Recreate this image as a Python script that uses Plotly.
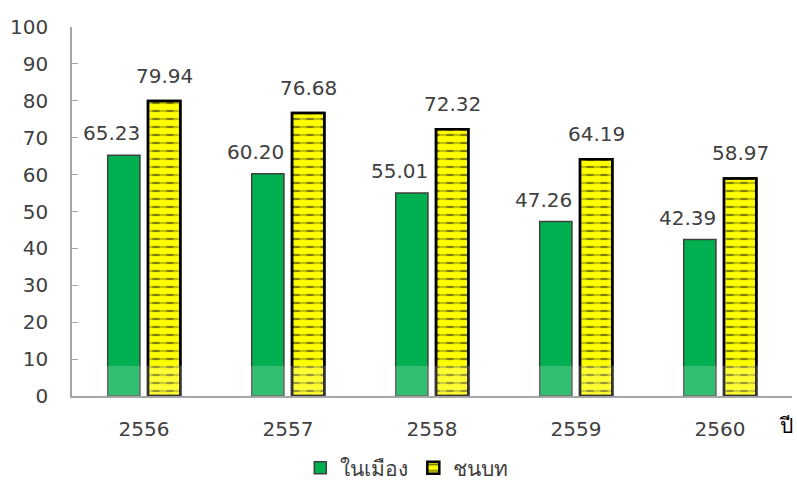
import plotly.graph_objects as go

years = ["2556", "2557", "2558", "2559", "2560"]
urban = [65.23, 60.20, 55.01, 47.26, 42.39]
rural = [79.94, 76.68, 72.32, 64.19, 58.97]
urban_name = "ในเมือง"
rural_name = "ชนบท"
x_title = "ปี"

FONT = "DejaVu Sans"
TXT = "#404040"

pos = list(range(len(years)))

fig = go.Figure()
fig.add_trace(go.Bar(
    x=pos, y=urban, name=urban_name, offsetgroup="u",
    marker=dict(color="#00B050", line=dict(color="#404040", width=1.5)),
))
fig.add_trace(go.Bar(
    x=pos, y=rural, name=rural_name, offsetgroup="r",
    marker=dict(color="#FFFF00", line=dict(color="#000000", width=2.5),
                pattern=dict(shape="-", fgcolor="#000000", bgcolor="#FFFF00",
                             size=8, solidity=0.28)),
))
# yellow vertical stripes over the line pattern -> dashed look
fig.add_trace(go.Bar(
    x=pos, y=rural, name=rural_name, offsetgroup="r", showlegend=False,
    hoverinfo="skip",
    marker=dict(color="rgba(0,0,0,0)", line=dict(color="#000000", width=2.5),
                pattern=dict(shape="|", fgcolor="#FFFF00", bgcolor="rgba(0,0,0,0)",
                             size=14, solidity=0.5)),
))

for p, u, r in zip(pos, urban, rural):
    fig.add_annotation(x=p, y=u, text=f"{u:.2f}", showarrow=False,
                       xshift=-33, yshift=22, yanchor="middle",
                       font=dict(family=FONT, size=20, color=TXT))
    fig.add_annotation(x=p, y=r, text=f"{r:.2f}", showarrow=False,
                       xshift=20, yshift=25, yanchor="middle",
                       font=dict(family=FONT, size=20, color=TXT))

fig.add_annotation(xref="paper", yref="paper", x=0.992, y=-0.08,
                   text=x_title, showarrow=False, xanchor="center", yanchor="middle",
                   font=dict(family=FONT, size=21, color="#000000"))

# light band near the base (watermark overlay in the reference)
fig.add_shape(type="rect", xref="paper", yref="y", x0=0, x1=1, y0=0, y1=8.2,
              fillcolor="rgba(255,255,255,0.2)", line=dict(width=0), layer="above")

fig.update_layout(
    width=797, height=483,
    margin=dict(l=72, r=5, t=27, b=87),
    paper_bgcolor="white", plot_bgcolor="white",
    barmode="group", bargap=0.44, bargroupgap=0.2,
    font=dict(family=FONT, size=20, color=TXT),
    showlegend=True,
    legend=dict(orientation="h", x=0.465, xanchor="center", y=0.031, yanchor="middle",
                yref="container", itemwidth=30,
                font=dict(family=FONT, size=21, color=TXT),
                traceorder="normal"),
    xaxis=dict(range=[-0.5, len(years) - 0.5], tickvals=pos, ticktext=years,
               showline=True, linecolor="#A6A6A6", linewidth=1.5,
               ticks="outside", ticklen=14, tickcolor="rgba(0,0,0,0)", showgrid=False,
               zeroline=False, tickfont=dict(family=FONT, size=20, color=TXT)),
    yaxis=dict(range=[0, 100], dtick=10, showline=True, linecolor="#A6A6A6",
               linewidth=1.5, ticks="inside", ticklen=6, tickcolor="#A6A6A6",
               showgrid=False, zeroline=False, ticklabelstandoff=18,
               tickfont=dict(family=FONT, size=20, color=TXT)),
)

fig.write_html("out.html")
